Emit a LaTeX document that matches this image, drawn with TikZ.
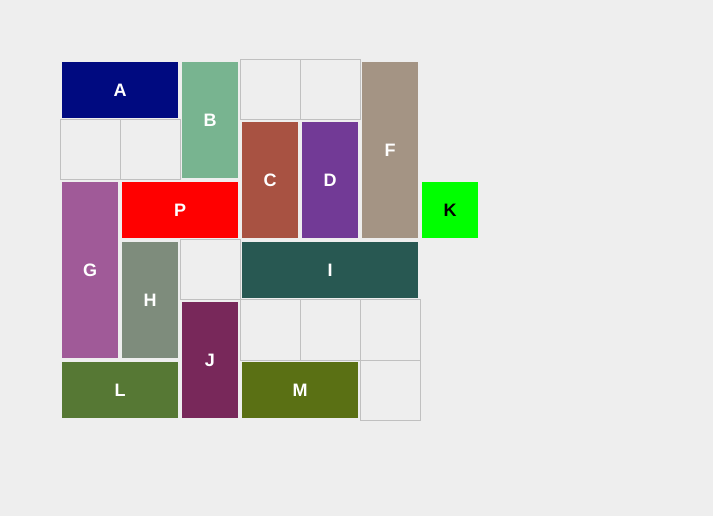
\documentclass[tikz,border=0pt]{standalone}
\usepackage{fontspec}
\setmainfont{Liberation Sans}
\usepackage{tikz}
\usetikzlibrary{positioning}
\definecolor{bg}{HTML}{EEEEEE}
\definecolor{gridline}{HTML}{C0C0C0}
\definecolor{cA}{HTML}{000A80}
\definecolor{cB}{HTML}{78B490}
\definecolor{cC}{HTML}{A85242}
\definecolor{cD}{HTML}{723A96}
\definecolor{cF}{HTML}{A49484}
\definecolor{cK}{HTML}{00FF00}
\definecolor{cP}{HTML}{FF0000}
\definecolor{cG}{HTML}{A05A98}
\definecolor{cH}{HTML}{7E8C7C}
\definecolor{cI}{HTML}{285852}
\definecolor{cJ}{HTML}{78285A}
\definecolor{cL}{HTML}{567834}
\definecolor{cM}{HTML}{5A7014}
\tikzset{
  cell/.style = {rectangle, draw=gridline, line width=0.75pt, fill=bg,
                 minimum size=45pt, inner sep=0pt, outer sep=0pt},
  blk/.style  = {rectangle, inner sep=0pt, outer sep=0pt, text=white,
                 font=\fontsize{13.5}{15}\selectfont\bfseries},
  w1/.style = {minimum width=42pt},
  w2/.style = {minimum width=87pt},
  w3/.style = {minimum width=132pt},
  h1/.style = {minimum height=42pt},
  h2/.style = {minimum height=87pt},
  h3/.style = {minimum height=132pt},
}
\begin{document}
\begin{tikzpicture}[x=0.75pt, y=-0.75pt]

  % background and frame
  \fill[bg] (0,0) rectangle (713,516);
  \useasboundingbox (0,0) rectangle (713,516);

  % ----- empty cells -----
  \node[cell] (e1) at (270,90) {};
  \node[cell] (e2) at (330,90) {};
  \node[cell] (e3) at (90,150) {};
  \node[cell] (e4) at (150,150) {};
  \node[cell] (e5) at (210,270) {};
  \node[cell] (e6) at (270,330) {};
  \node[cell] (e7) at (330,330) {};
  \node[cell] (e8) at (390,330) {};
  \node[cell] (e9) at (390,390) {};

  % ----- blocks -----
  \node[blk, w2, h1, fill=cA] (bA) at (120,90) {A};
  \node[blk, w1, h2, fill=cB] (bB) at (210,120) {B};
  \node[blk, w1, h2, fill=cC] (bC) at (270,180) {C};
  \node[blk, w1, h2, fill=cD] (bD) at (330,180) {D};
  \node[blk, w1, h3, fill=cF] (bF) at (390,150) {F};
  \node[blk, w1, h1, fill=cK, text=black] (bK) at (450,210) {K};
  \node[blk, w1, h3, fill=cG] (bG) at (90,270) {G};
  \node[blk, w2, h1, fill=cP] (bP) at (180,210) {P};
  \node[blk, w1, h2, fill=cH] (bH) at (150,300) {H};
  \node[blk, w3, h1, fill=cI] (bI) at (330,270) {I};
  \node[blk, w1, h2, fill=cJ] (bJ) at (210,360) {J};
  \node[blk, w2, h1, fill=cL] (bL) at (120,390) {L};
  \node[blk, w2, h1, fill=cM] (bM) at (300,390) {M};

\end{tikzpicture}
\end{document}
